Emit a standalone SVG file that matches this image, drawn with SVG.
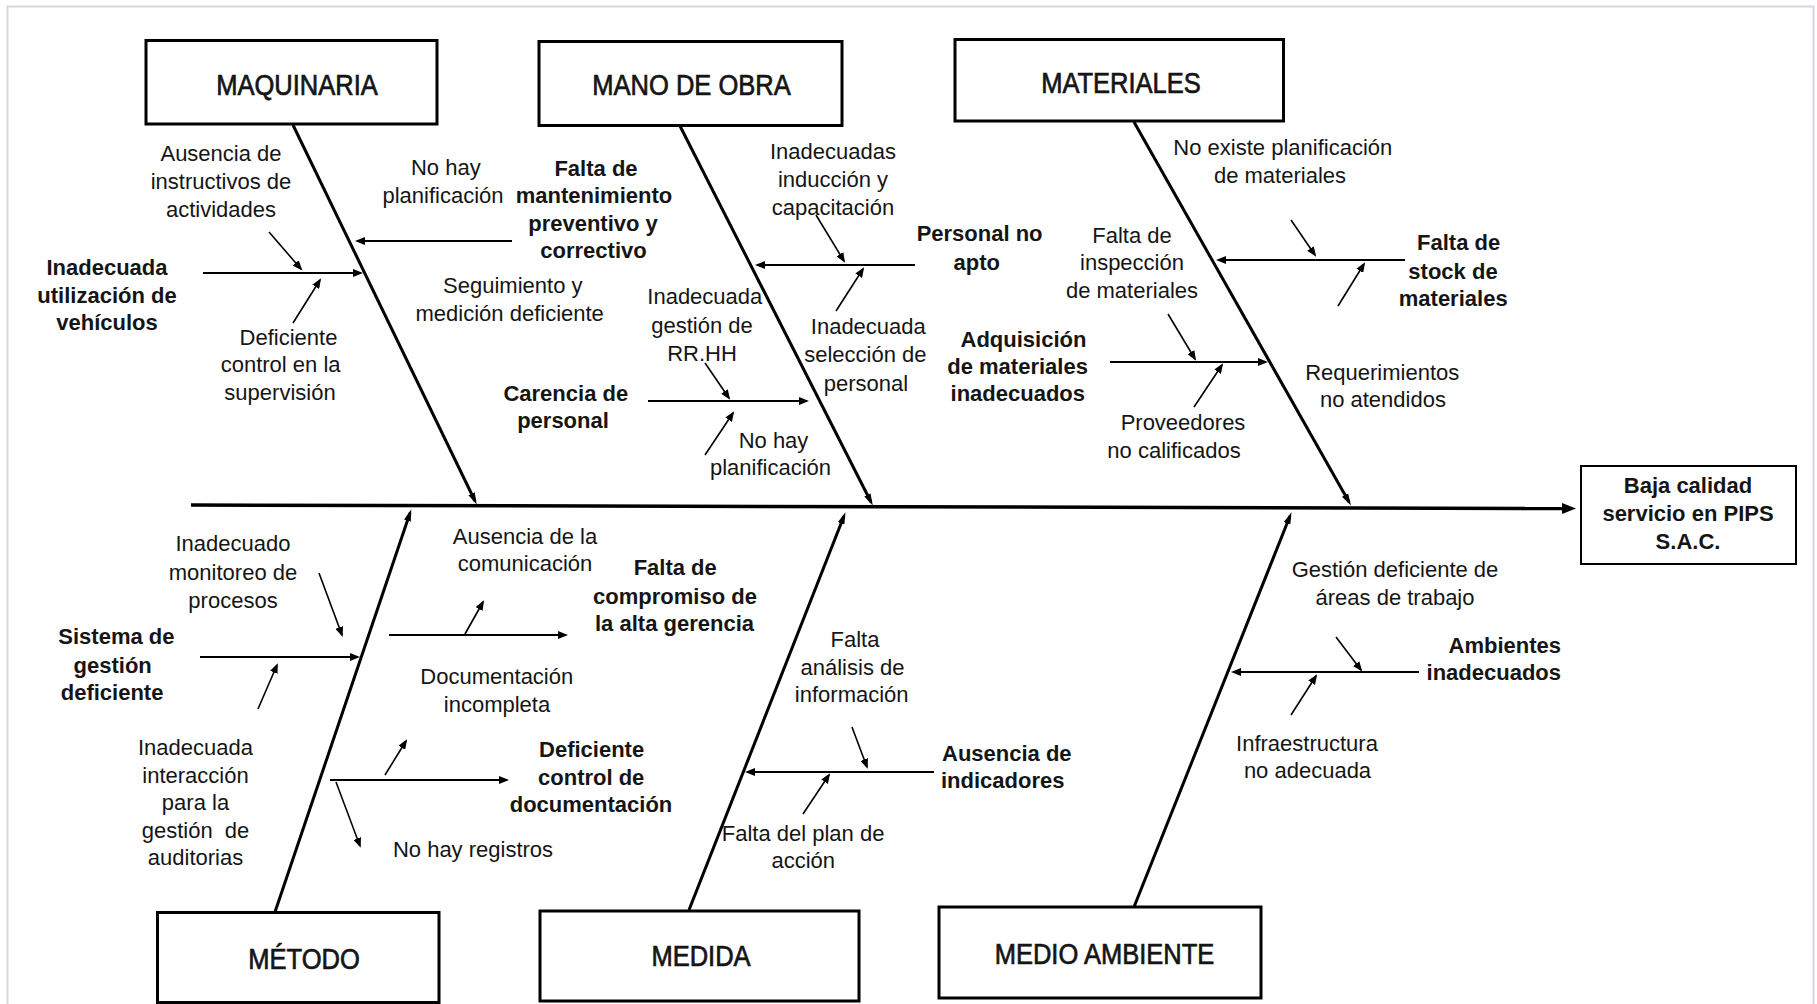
<svg xmlns="http://www.w3.org/2000/svg" width="1817" height="1004" viewBox="0 0 1817 1004">
  <style>
    .frame { fill: none; stroke: #d3d8e2; stroke-width: 2; }
    .box { fill: #ffffff; stroke: #000000; stroke-width: 3; }
    .effect { fill: #ffffff; stroke: #000000; stroke-width: 2; }
    text { font-family: "Liberation Sans", Arial, sans-serif; fill: #151515; }
    .title { font-size: 29px; text-anchor: middle; stroke: #151515; stroke-width: 0.7px; }
    .t { font-size: 22px; text-anchor: middle; }
    .b { font-size: 22px; font-weight: bold; text-anchor: middle; }
    .spine { fill: none; stroke: #000000; stroke-width: 3.5; }
    .bone { fill: none; stroke: #000000; stroke-width: 3; }
    .ln { fill: none; stroke: #000000; stroke-width: 2; }
    .sub { fill: none; stroke: #000000; stroke-width: 1.6; }
  </style>
  <defs>
    <marker id="ah" viewBox="0 0 10 8" refX="8" refY="4" markerWidth="10" markerHeight="8" markerUnits="userSpaceOnUse" orient="auto">
      <path d="M0,0 L10,4 L0,8 z" fill="#000000"/>
    </marker>
    <marker id="ab" viewBox="0 0 12 7" refX="8" refY="3.5" markerWidth="12" markerHeight="7" markerUnits="userSpaceOnUse" orient="auto">
      <path d="M0,0 L12,3.5 L0,7 z" fill="#000000"/>
    </marker>
    <marker id="as" viewBox="0 0 14 11" refX="4" refY="5.5" markerWidth="14" markerHeight="11" markerUnits="userSpaceOnUse" orient="auto">
      <path d="M0,0 L14,5.5 L0,11 z" fill="#000000"/>
    </marker>
  </defs>

  <rect class="frame" x="7.5" y="6.5" width="1806" height="1012"/>

  <!-- connectors: spine, category bones, cause arrows -->
  <g id="connectors">
    <path class="spine" d="M191,505 L1566,508.5" marker-end="url(#as)"/>

    <path class="bone" d="M293,125 L475,501" marker-end="url(#ab)"/>
    <path class="bone" d="M680,126 L871,502" marker-end="url(#ab)"/>
    <path class="bone" d="M1134,122 L1349,502" marker-end="url(#ab)"/>
    <path class="bone" d="M275,912 L410,513" marker-end="url(#ab)"/>
    <path class="bone" d="M689,910 L844,516" marker-end="url(#ab)"/>
    <path class="bone" d="M1134,907 L1290,516" marker-end="url(#ab)"/>

    <!-- MAQUINARIA -->
    <path class="ln" d="M203,273 L361,273" marker-end="url(#ah)"/>
    <path class="sub" d="M269,232 L301,269" marker-end="url(#ah)"/>
    <path class="sub" d="M293,323 L320,280" marker-end="url(#ah)"/>
    <path class="ln" d="M512,241 L357,241" marker-end="url(#ah)"/>

    <!-- MANO DE OBRA -->
    <path class="ln" d="M915,265 L757,265" marker-end="url(#ah)"/>
    <path class="sub" d="M816,215 L844,261" marker-end="url(#ah)"/>
    <path class="sub" d="M836,311 L863,269" marker-end="url(#ah)"/>
    <path class="ln" d="M648,401 L807,401" marker-end="url(#ah)"/>
    <path class="sub" d="M705,363 L729,398" marker-end="url(#ah)"/>
    <path class="sub" d="M705,455 L733,413" marker-end="url(#ah)"/>

    <!-- MATERIALES -->
    <path class="ln" d="M1405,260 L1218,260" marker-end="url(#ah)"/>
    <path class="sub" d="M1291,220 L1315,255" marker-end="url(#ah)"/>
    <path class="sub" d="M1338,306 L1364,264" marker-end="url(#ah)"/>
    <path class="ln" d="M1110,362 L1266,362" marker-end="url(#ah)"/>
    <path class="sub" d="M1168,314 L1195,359" marker-end="url(#ah)"/>
    <path class="sub" d="M1194,407 L1222,365" marker-end="url(#ah)"/>

    <!-- MÉTODO -->
    <path class="ln" d="M200,657 L358,657" marker-end="url(#ah)"/>
    <path class="sub" d="M319,573 L342,635" marker-end="url(#ah)"/>
    <path class="sub" d="M258,709 L277,665" marker-end="url(#ah)"/>
    <path class="ln" d="M389,635 L566,635" marker-end="url(#ah)"/>
    <path class="sub" d="M465,634 L483,602" marker-end="url(#ah)"/>
    <path class="ln" d="M330,780 L507,780" marker-end="url(#ah)"/>
    <path class="sub" d="M385,775 L406,741" marker-end="url(#ah)"/>
    <path class="sub" d="M336,782 L360,846" marker-end="url(#ah)"/>

    <!-- MEDIDA -->
    <path class="ln" d="M934,772 L747,772" marker-end="url(#ah)"/>
    <path class="sub" d="M852,727 L867,767" marker-end="url(#ah)"/>
    <path class="sub" d="M803,814 L829,775" marker-end="url(#ah)"/>

    <!-- MEDIO AMBIENTE -->
    <path class="ln" d="M1419,672 L1233,672" marker-end="url(#ah)"/>
    <path class="sub" d="M1336,637 L1361,670" marker-end="url(#ah)"/>
    <path class="sub" d="M1291,715 L1316,676" marker-end="url(#ah)"/>
  </g>

  <!-- category boxes -->
  <g id="cat-maquinaria">
    <rect class="box" x="146" y="40.5" width="291" height="83.5"/>
    <text class="title" transform="translate(297 94.5) scale(0.88 1)">MAQUINARIA</text>
  </g>
  <g id="cat-mano-de-obra">
    <rect class="box" x="539" y="41.5" width="303" height="84"/>
    <text class="title" transform="translate(691.5 94.5) scale(0.88 1)">MANO DE OBRA</text>
  </g>
  <g id="cat-materiales">
    <rect class="box" x="955" y="39.5" width="328.5" height="81.5"/>
    <text class="title" transform="translate(1121 92.5) scale(0.88 1)">MATERIALES</text>
  </g>
  <g id="cat-metodo">
    <rect class="box" x="157.5" y="912.5" width="281.5" height="90"/>
    <text class="title" transform="translate(304 968.5) scale(0.88 1)">MÉTODO</text>
  </g>
  <g id="cat-medida">
    <rect class="box" x="540" y="911" width="319" height="90"/>
    <text class="title" transform="translate(701 966) scale(0.88 1)">MEDIDA</text>
  </g>
  <g id="cat-medio-ambiente">
    <rect class="box" x="939" y="907" width="322" height="91"/>
    <text class="title" transform="translate(1104.5 964.3) scale(0.88 1)">MEDIO AMBIENTE</text>
  </g>

  <!-- effect -->
  <g id="effect">
    <rect class="effect" x="1581" y="466" width="215" height="98"/>
    <text class="b"><tspan x="1688" y="493.3">Baja calidad</tspan><tspan x="1688" y="521">servicio en PIPS</tspan><tspan x="1688" y="549">S.A.C.</tspan></text>
  </g>

  <!-- causes: MAQUINARIA -->
  <g id="c-ausencia-instructivos">
    <text class="t"><tspan x="221" y="160.8">Ausencia de</tspan><tspan x="221" y="188.8">instructivos de</tspan><tspan x="221" y="216.5">actividades</tspan></text>
  </g>
  <g id="c-inadecuada-utilizacion">
    <text class="b"><tspan x="107" y="275.2">Inadecuada</tspan><tspan x="107" y="302.6">utilización de</tspan><tspan x="107" y="330.4">vehículos</tspan></text>
  </g>
  <g id="c-deficiente-control">
    <text class="t"><tspan x="288.5" y="345">Deficiente</tspan><tspan x="280.6" y="372.3">control en la</tspan><tspan x="280" y="399.8">supervisión</tspan></text>
  </g>
  <g id="c-no-hay-planificacion-1">
    <text class="t"><tspan x="445.8" y="175">No hay</tspan><tspan x="443" y="203.3">planificación</tspan></text>
  </g>
  <g id="c-falta-mantenimiento">
    <text class="b"><tspan x="596" y="175.5">Falta de</tspan><tspan x="594" y="203.3">mantenimiento</tspan><tspan x="593" y="230.8">preventivo y</tspan><tspan x="593.5" y="258.3">correctivo</tspan></text>
  </g>
  <g id="c-seguimiento">
    <text class="t"><tspan x="512.8" y="293">Seguimiento y</tspan><tspan x="509.7" y="320.5">medición deficiente</tspan></text>
  </g>

  <!-- causes: MANO DE OBRA -->
  <g id="c-carencia-personal">
    <text class="b"><tspan x="565.8" y="401">Carencia de</tspan><tspan x="563" y="428">personal</tspan></text>
  </g>
  <g id="c-gestion-rrhh">
    <text class="t"><tspan x="704.8" y="304.4">Inadecuada</tspan><tspan x="702" y="332.6">gestión de</tspan><tspan x="702" y="360.8">RR.HH</tspan></text>
  </g>
  <g id="c-no-hay-planificacion-2">
    <text class="t"><tspan x="773.5" y="447.6">No hay</tspan><tspan x="770.5" y="474.8">planificación</tspan></text>
  </g>
  <g id="c-induccion">
    <text class="t"><tspan x="833" y="158.5">Inadecuadas</tspan><tspan x="833" y="186.7">inducción y</tspan><tspan x="833" y="214.9">capacitación</tspan></text>
  </g>
  <g id="c-personal-no-apto">
    <text class="b"><tspan x="979.6" y="241.4">Personal no</tspan><tspan x="976.7" y="270.3">apto</tspan></text>
  </g>
  <g id="c-seleccion">
    <text class="t"><tspan x="868.3" y="334.3">Inadecuada</tspan><tspan x="865.4" y="362.4">selección de</tspan><tspan x="866" y="390.6">personal</tspan></text>
  </g>

  <!-- causes: MATERIALES -->
  <g id="c-no-existe-planificacion">
    <text class="t"><tspan x="1282.8" y="155.3">No existe planificación</tspan><tspan x="1280" y="182.8">de materiales</tspan></text>
  </g>
  <g id="c-inspeccion">
    <text class="t"><tspan x="1132" y="242.8">Falta de</tspan><tspan x="1132" y="270.3">inspección</tspan><tspan x="1132" y="298">de materiales</tspan></text>
  </g>
  <g id="c-falta-stock">
    <text class="b"><tspan x="1458.6" y="250">Falta de</tspan><tspan x="1453" y="278.5">stock de</tspan><tspan x="1453.2" y="306.4">materiales</tspan></text>
  </g>
  <g id="c-adquisicion">
    <text class="b"><tspan x="1023.5" y="346.5">Adquisición</tspan><tspan x="1017.6" y="374">de materiales</tspan><tspan x="1017.8" y="401.2">inadecuados</tspan></text>
  </g>
  <g id="c-requerimientos">
    <text class="t"><tspan x="1382.2" y="380.2">Requerimientos</tspan><tspan x="1382.9" y="407">no atendidos</tspan></text>
  </g>
  <g id="c-proveedores">
    <text class="t"><tspan x="1183" y="430.2">Proveedores</tspan><tspan x="1174" y="458">no calificados</tspan></text>
  </g>

  <!-- causes: MÉTODO -->
  <g id="c-monitoreo">
    <text class="t"><tspan x="233" y="551.1">Inadecuado</tspan><tspan x="233" y="579.5">monitoreo de</tspan><tspan x="233" y="607.9">procesos</tspan></text>
  </g>
  <g id="c-sistema-gestion">
    <text class="b"><tspan x="116.4" y="644.3">Sistema de</tspan><tspan x="112.7" y="673">gestión</tspan><tspan x="112.1" y="700.4">deficiente</tspan></text>
  </g>
  <g id="c-interaccion">
    <text class="t"><tspan x="195.5" y="755">Inadecuada</tspan><tspan x="195.5" y="782.7">interacción</tspan><tspan x="195.5" y="810.3">para la</tspan><tspan x="195.5" y="837.7">gestión&#160; de</tspan><tspan x="195.5" y="865.2">auditorias</tspan></text>
  </g>
  <g id="c-comunicacion">
    <text class="t"><tspan x="525" y="543.5">Ausencia de la</tspan><tspan x="525" y="570.8">comunicación</tspan></text>
  </g>
  <g id="c-compromiso">
    <text class="b"><tspan x="675.2" y="575.2">Falta de</tspan><tspan x="675" y="603.6">compromiso de</tspan><tspan x="674.5" y="631.3">la alta gerencia</tspan></text>
  </g>
  <g id="c-documentacion-incompleta">
    <text class="t"><tspan x="496.8" y="684.4">Documentación</tspan><tspan x="497" y="712.1">incompleta</tspan></text>
  </g>
  <g id="c-control-documentacion">
    <text class="b"><tspan x="591.6" y="757.2">Deficiente</tspan><tspan x="591.2" y="784.6">control de</tspan><tspan x="591" y="812.3">documentación</tspan></text>
  </g>
  <g id="c-no-hay-registros">
    <text class="t"><tspan x="473" y="857.4">No hay registros</tspan></text>
  </g>

  <!-- causes: MEDIDA -->
  <g id="c-analisis">
    <text class="t"><tspan x="855" y="647">Falta</tspan><tspan x="852.5" y="674.7">análisis de</tspan><tspan x="851.7" y="702.1">información</tspan></text>
  </g>
  <g id="c-indicadores">
    <text class="b" style="text-anchor:start"><tspan x="942" y="760.6">Ausencia de</tspan><tspan x="941" y="788">indicadores</tspan></text>
  </g>
  <g id="c-plan-accion">
    <text class="t"><tspan x="803.1" y="840.7">Falta del plan de</tspan><tspan x="803.3" y="868.1">acción</tspan></text>
  </g>

  <!-- causes: MEDIO AMBIENTE -->
  <g id="c-areas-trabajo">
    <text class="t"><tspan x="1395" y="576.9">Gestión deficiente de</tspan><tspan x="1395" y="605.3">áreas de trabajo</tspan></text>
  </g>
  <g id="c-ambientes">
    <text class="b" style="text-anchor:end"><tspan x="1561" y="653">Ambientes</tspan><tspan x="1561" y="680.4">inadecuados</tspan></text>
  </g>
  <g id="c-infraestructura">
    <text class="t"><tspan x="1307" y="750.5">Infraestructura</tspan><tspan x="1307.5" y="777.9">no adecuada</tspan></text>
  </g>
</svg>
